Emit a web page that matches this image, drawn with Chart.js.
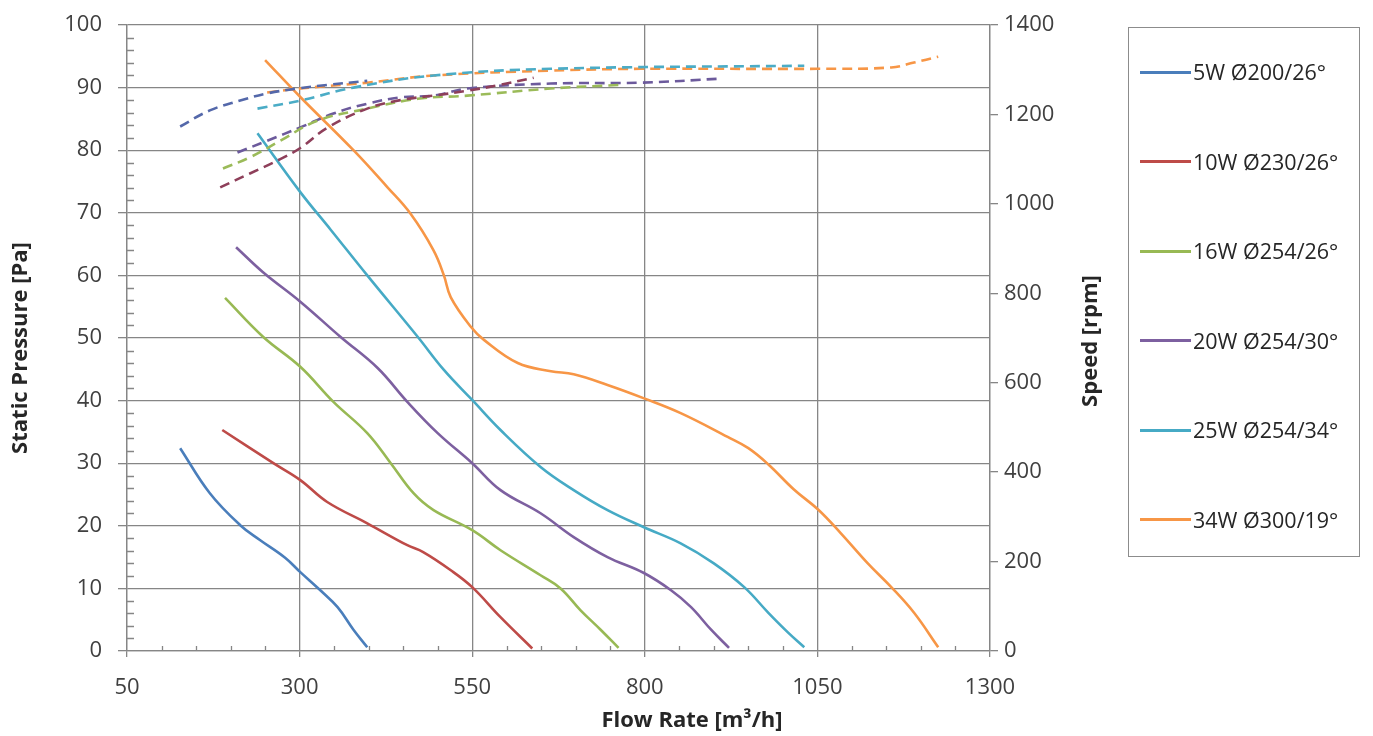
<!DOCTYPE html>
<html>
<head>
<meta charset="utf-8">
<script src="https://cdn.jsdelivr.net/npm/chart.js@4"></script>
<style>
  body { margin: 0; background: #fff; }
  #wrap { position: relative; width: 1373px; height: 736px; }
  #legend {
    position: absolute; left: 1128px; top: 27px; width: 232px; height: 530px;
    border: 1px solid #8c8c8c; box-sizing: border-box;
    font-family: "Open Sans", sans-serif; font-size: 21.5px; color: #262626;
  }
  .item { position: absolute; left: 11px; display: flex; align-items: center; line-height: 30px; white-space: nowrap; }
  .swatch { width: 51px; height: 3px; margin-right: 2px; }
</style>
</head>
<body>
<div id="wrap">
  <canvas id="fanChart" width="1373" height="736"></canvas>
  <div id="legend"></div>
</div>
<script>
// etiquetas de las series
const seriesNames = ['5W Ø200/26°', '10W Ø230/26°', '16W Ø254/26°', '20W Ø254/30°', '25W Ø254/34°', '34W Ø300/19°'];
const colores = ['#4A7EBB', '#BE4B48', '#98B954', '#7D60A0', '#46AAC5', '#F79646'];
const coloresVel = ['#5468AA', '#8E3F5A', '#9BBB59', '#6C5A9C', '#4BACC6', '#F79646'];

// presion estatica [Pa] vs caudal [m3/h]
const flow5 = [127, 170, 214, 243, 279, 301, 330, 355, 378, 398];
const pres5 = [32.4, 25.2, 20.1, 17.7, 14.9, 12.6, 9.7, 7.0, 3.4, 0.6];
const flow10 = [188, 262, 301, 340, 398, 456, 479, 519, 550, 591, 637];
const pres10 = [35.3, 30.0, 27.3, 23.8, 20.4, 16.9, 15.8, 12.9, 10.2, 5.4, 0.4];
const flow16 = [192, 247, 301, 349, 398, 432, 465, 494, 550, 591, 649, 678, 707, 736, 762];
const pres16 = [56.4, 50.2, 45.4, 39.8, 34.8, 30.0, 25.2, 22.5, 19.3, 16.1, 12.1, 10.0, 6.5, 3.4, 0.5];
const flow20 = [208, 247, 301, 359, 413, 456, 500, 550, 591, 649, 697, 746, 798, 838, 867, 896, 922];
const pres20 = [64.5, 60.5, 55.8, 50.2, 45.2, 39.8, 34.8, 30.0, 25.7, 22.0, 18.2, 15.0, 12.5, 9.7, 7.0, 3.4, 0.5];
const flow25 = [239, 301, 345, 398, 471, 509, 550, 591, 649, 697, 746, 798, 852, 900, 944, 979, 1008, 1031];
const pres25 = [82.7, 73.3, 67.3, 60.0, 50.2, 44.9, 40.1, 35.3, 29.4, 25.7, 22.5, 19.8, 17.2, 14.0, 10.2, 6.1, 2.9, 0.6];
const flow34 = [250, 301, 378, 427, 461, 494, 509, 519, 548, 567, 616, 664, 697, 746, 798, 852, 920, 950, 979, 1016, 1051, 1084, 1123, 1157, 1190, 1225];
const pres34 = [94.4, 88.5, 80.0, 74.1, 69.8, 64.0, 60.0, 56.5, 51.8, 49.7, 46.0, 44.7, 44.2, 42.5, 40.4, 38.0, 34.2, 32.4, 29.8, 25.8, 22.6, 18.8, 14.0, 10.2, 6.1, 0.6];

// velocidad [rpm] vs caudal
const velFlow5 = [127, 170, 214, 253, 297, 340, 398];
const vel5 = [1173, 1209, 1231, 1247, 1258, 1266, 1275];
const velFlow10 = [185, 228, 272, 301, 340, 398, 446, 494, 543, 590, 639];
const vel10 = [1037, 1068, 1100, 1125, 1170, 1213, 1232, 1242, 1253, 1266, 1282];
const velFlow16 = [189, 228, 272, 326, 398, 471, 543, 664, 762];
const vel16 = [1079, 1104, 1141, 1186, 1213, 1235, 1242, 1258, 1266];
const velFlow20 = [210, 253, 301, 349, 398, 446, 494, 543, 664, 794, 910];
const vel20 = [1115, 1141, 1171, 1202, 1224, 1238, 1242, 1258, 1269, 1271, 1280];
const velFlow25 = [239, 301, 378, 494, 664, 1031];
const vel25 = [1213, 1231, 1260, 1287, 1302, 1309];
const velFlow34 = [253, 301, 398, 494, 664, 794, 1051, 1157, 1190, 1225];
const vel34 = [1249, 1258, 1271, 1287, 1298, 1302, 1302, 1305, 1316, 1329];

const xTicks = [50, 300, 550, 800, 1050, 1300];

const presFlows = [flow5, flow10, flow16, flow20, flow25, flow34];
const presVals = [pres5, pres10, pres16, pres20, pres25, pres34];
const velFlows = [velFlow5, velFlow10, velFlow16, velFlow20, velFlow25, velFlow34];
const velVals = [vel5, vel10, vel16, vel20, vel25, vel34];

function puntos(xs, ys) {
    return xs.map((x, i) => ({ x: x, y: ys[i] }));
}

const datasets = [];
for (let i = 0; i < seriesNames.length; i++) {
    datasets.push({
        label: 'vel ' + seriesNames[i],
        data: puntos(velFlows[i], velVals[i]),
        yAxisID: 'y2',
        borderColor: coloresVel[i],
        borderWidth: 2.6,
        borderDash: [10, 6],
        showLine: true,
        pointRadius: 0,
        tension: 0.4
    });
}
for (let i = 0; i < seriesNames.length; i++) {
    datasets.push({
        label: seriesNames[i],
        data: puntos(presFlows[i], presVals[i]),
        yAxisID: 'y',
        borderColor: colores[i],
        borderWidth: 2.6,
        showLine: true,
        pointRadius: 0,
        tension: 0.4
    });
}

const gris = '#868686';
const fuenteTicks = { family: 'Open Sans', size: 22 };

// marcas menores hacia dentro y titulos de ejes
const extrasPlugin = {
    id: 'extras',
    beforeDatasetsDraw(chart) {
        const ctx = chart.ctx;
        const x = chart.scales.x, y = chart.scales.y;
        ctx.save();
        ctx.strokeStyle = gris;
        ctx.lineWidth = 1.3;
        ctx.beginPath();
        for (let v = 100; v < 1300; v += 50) {
            if ((v - 50) % 250 === 0) continue;
            const px = Math.round(x.getPixelForValue(v)) + 0.5;
            ctx.moveTo(px, y.bottom);
            ctx.lineTo(px, y.bottom - 5);
        }
        for (let v = 2; v < 100; v += 2) {
            if (v % 10 === 0) continue;
            const py = Math.round(y.getPixelForValue(v)) + 0.5;
            ctx.moveTo(x.left, py);
            ctx.lineTo(x.left + 7, py);
        }
        ctx.stroke();
        ctx.restore();
    },
    afterDraw(chart) {
        const ctx = chart.ctx;
        const area = chart.chartArea;
        const midY = (area.top + area.bottom) / 2;
        ctx.save();
        ctx.fillStyle = '#262626';
        ctx.font = 'bold 22px "Open Sans"';
        ctx.textAlign = 'center';
        ctx.textBaseline = 'middle';
        ctx.fillText('Flow Rate [m³/h]', 692, 721);
        ctx.translate(21, midY + 10);
        ctx.rotate(-Math.PI / 2);
        ctx.fillText('Static Pressure [Pa]', 0, 0);
        ctx.restore();
        ctx.save();
        ctx.fillStyle = '#262626';
        ctx.font = 'bold 22px "Open Sans"';
        ctx.textAlign = 'center';
        ctx.textBaseline = 'middle';
        ctx.translate(1091, midY + 3);
        ctx.rotate(-Math.PI / 2);
        ctx.fillText('Speed [rpm]', 0, 0);
        ctx.restore();
    }
};

// ancho fijo y sin relleno extra arriba/abajo para los ejes verticales
function fijarEjeY(ancho) {
    return (scale) => {
        scale.width = ancho;
        scale.paddingTop = 0;
        scale.paddingBottom = 0;
    };
}

new Chart(document.getElementById('fanChart').getContext('2d'), {
    type: 'scatter',
    data: { datasets: datasets },
    plugins: [extrasPlugin],
    options: {
        responsive: false,
        animation: false,
        layout: { padding: { left: 0, right: 253, top: 25, bottom: 0 } },
        plugins: { legend: { display: false }, tooltip: { enabled: false } },
        scales: {
            x: {
                type: 'linear',
                min: 50,
                max: 1300,
                afterBuildTicks: (scale) => { scale.ticks = xTicks.map(v => ({ value: v })); },
                afterFit: (scale) => { scale.height = 85; },
                ticks: { color: '#404040', font: fuenteTicks, padding: 18, maxRotation: 0, callback: (v) => String(v) },
                grid: { color: gris, lineWidth: 1.3, tickLength: 6 },
                border: { color: gris, width: 1.3 }
            },
            y: {
                position: 'left',
                min: 0,
                max: 100,
                ticks: { stepSize: 10, color: '#404040', font: fuenteTicks, padding: 16, callback: (v) => String(v) },
                afterFit: fijarEjeY(127),
                grid: { color: gris, lineWidth: 1.3, tickLength: 9 },
                border: { color: gris, width: 1.3 }
            },
            y2: {
                position: 'right',
                min: 0,
                max: 1400,
                ticks: { stepSize: 200, color: '#404040', font: fuenteTicks, padding: 6, callback: (v) => String(v) },
                afterFit: fijarEjeY(130),
                grid: { drawOnChartArea: false, color: gris, lineWidth: 1.3, tickLength: 8 },
                border: { color: gris, width: 1.3 }
            }
        }
    }
});

// leyenda en html
const legend = document.getElementById('legend');
seriesNames.forEach((nombre, i) => {
    const div = document.createElement('div');
    div.className = 'item';
    div.style.top = (29 + i * 89.5) + 'px';
    div.innerHTML = `<span class="swatch" style="background:${colores[i]}"></span><span>${nombre}</span>`;
    legend.appendChild(div);
});
</script>
</body>
</html>
